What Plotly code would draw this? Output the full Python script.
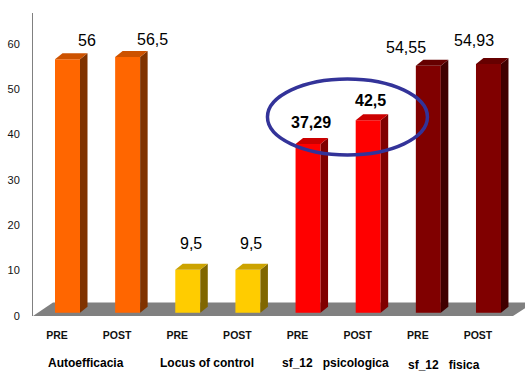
import plotly.graph_objects as go

# ---- data ----
groups = ["Autoefficacia", "Locus of control",
          "sf_12\u00a0\u00a0\u00a0psicologica", "sf_12\u00a0\u00a0\u00a0fisica"]
phases = ["PRE", "POST", "PRE", "POST", "PRE", "POST", "PRE", "POST"]
values = [56, 56.5, 9.5, 9.5, 37.29, 42.5, 54.55, 54.93]
value_labels = ["56", "56,5", "9,5", "9,5", "37,29", "42,5", "54,55", "54,93"]
y_ticks = [0, 10, 20, 30, 40, 50, 60]

# ---- styles ----
FONT = "Liberation Sans, Arial, sans-serif"
front_colors = ["#FF6600"] * 2 + ["#FFCC00"] * 2 + ["#FF0000"] * 2 + ["#800000"] * 2
top_colors = ["#CC5200"] * 2 + ["#CCA300"] * 2 + ["#CC0000"] * 2 + ["#660000"] * 2
side_colors = ["#803300"] * 2 + ["#806600"] * 2 + ["#800000"] * 2 + ["#400000"] * 2
label_bold = [False, False, False, False, True, True, False, False]
label_dx = [19, 25, 3, 3, 2.6, 2.6, -22, -14]
label_dy = [19, 17, 26, 26, 21.6, 20, 18, 23.7]
group_dx = [-12, -11, -3, -14.5]
group_dy = [-47, -47, -47, -48.5]

PX_X = 60.14   # px per category unit
PX_Y = 4.53    # px per value unit
BAR_W = 25 / PX_X
DDX = 7.5 / PX_X
DDY = 6 / PX_Y

W, H = 525, 371
ML, MR, MT, MB = 33, 0, 13, 55
x0 = (33 - 67.5) / PX_X
x_range = [x0, x0 + (W - ML - MR) / PX_X]
y_range = [-0.7, -0.7 + (H - MT - MB) / PX_Y]

xs = list(range(len(values)))

fig = go.Figure()
fig.add_trace(go.Bar(x=xs, y=values, width=BAR_W,
                     marker=dict(color=front_colors, line=dict(width=0)),
                     hoverinfo="skip", showlegend=False))

shapes = []
# floor
fx_tl = (53 - 67.5) / PX_X
fx_br = (513 - 67.5) / PX_X
fx_tr = (534 - 67.5) / PX_X
fy_top = (313 - 302.7) / PX_Y
shapes.append(dict(type="path", xref="x", yref="y", layer="below",
                   path=f"M {x_range[0]},{y_range[0]} L {fx_tl},{fy_top} L {fx_tr},{fy_top} "
                        f"L {fx_br},{y_range[0]} Z",
                   fillcolor="#808080", line=dict(width=0)))
# 3D side and top faces
for x, v, tc, sc in zip(xs, values, top_colors, side_colors):
    r = x + BAR_W / 2
    l = x - BAR_W / 2
    shapes.append(dict(type="path", xref="x", yref="y",
                       path=f"M {r},0 L {r+DDX},{DDY} L {r+DDX},{v+DDY} L {r},{v} Z",
                       fillcolor=sc, line=dict(width=0)))
    shapes.append(dict(type="path", xref="x", yref="y",
                       path=f"M {l},{v} L {l+DDX},{v+DDY} L {r+DDX},{v+DDY} L {r},{v} Z",
                       fillcolor=tc, line=dict(width=0)))
# highlight ellipse
shapes.append(dict(type="circle", xref="x", yref="y",
                   x0=3.325, x1=5.985, y0=34.85, y1=51.6,
                   line=dict(color="#333399", width=3.5)))

annotations = []
for x, v, t, b, dx, dy in zip(xs, values, value_labels, label_bold, label_dx, label_dy):
    annotations.append(dict(x=x, y=v, xref="x", yref="y", text=f"<b>{t}</b>" if b else t,
                            showarrow=False, xshift=dx, yshift=dy,
                            xanchor="center", yanchor="middle",
                            font=dict(family=FONT, size=16, color="#000000")))
for i, (g, dx, dy) in enumerate(zip(groups, group_dx, group_dy)):
    annotations.append(dict(x=2 * i + 0.5, y=0, xref="x", yref="paper", text=f"<b>{g}</b>",
                            showarrow=False, xshift=dx, yshift=dy,
                            xanchor="center", yanchor="middle",
                            font=dict(family=FONT, size=12, color="#000000")))

fig.update_layout(
    width=W, height=H,
    margin=dict(l=ML, r=MR, t=MT, b=MB),
    paper_bgcolor="white", plot_bgcolor="white",
    shapes=shapes, annotations=annotations,
    xaxis=dict(range=x_range, tickvals=[x - 10.5 / PX_X for x in xs],
               ticktext=[f"<b>{p}</b>" for p in phases],
               showgrid=False, zeroline=False, showline=False, ticks="",
               ticklabelstandoff=11,
               tickfont=dict(family=FONT, size=10.5, color="#111111")),
    yaxis=dict(range=y_range, tickvals=y_ticks, showgrid=False, zeroline=False,
               showline=True, linecolor="#808080", linewidth=1, ticks="",
               ticklabelstandoff=10, ticklabelshift=3,
               tickfont=dict(family=FONT, size=11, color="#111111")),
    font=dict(family=FONT),
)

fig.write_html("out.html")
